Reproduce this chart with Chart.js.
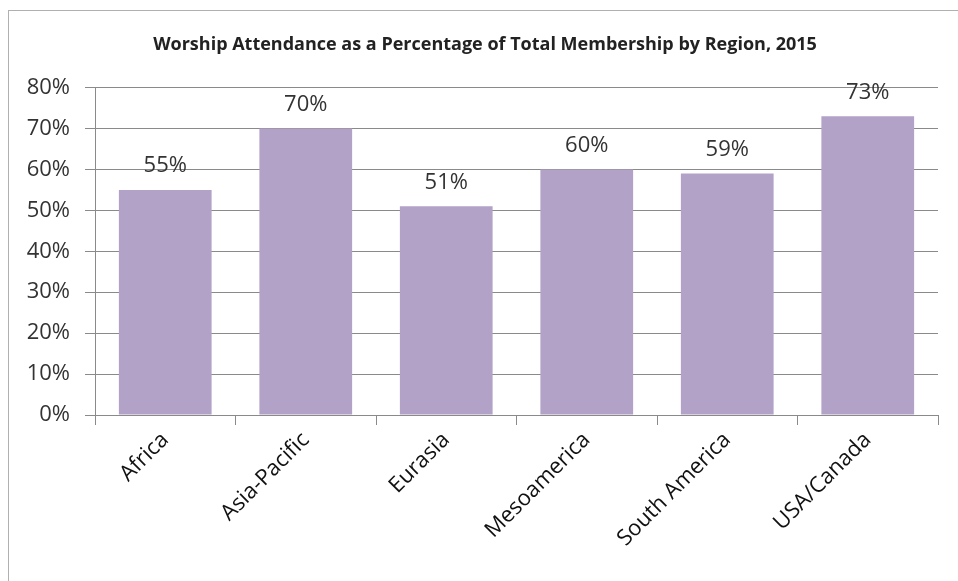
<!DOCTYPE html>
<html>
<head>
<meta charset="utf-8">
<script src="https://cdn.jsdelivr.net/npm/chart.js@4.4.0/dist/chart.umd.min.js"></script>
<style>
  html, body { margin: 0; padding: 0; background: #fff; }
  #frame {
    position: absolute; left: 8px; top: 10px; width: 960px; height: 580px;
    border-left: 1px solid #b0b0b0; border-top: 1px solid #b0b0b0;
  }
  #wrap { position: absolute; left: 0; top: 0; width: 958px; height: 581px; }
</style>
</head>
<body>
<div id="frame"></div>
<div id="wrap"><canvas id="chart"></canvas></div>
<script>
const regions = ['Africa', 'Asia-Pacific', 'Eurasia', 'Mesoamerica', 'South America', 'USA/Canada'];
const attendance = [55, 70, 51, 60, 59, 73];
const yTicks = [0, 10, 20, 30, 40, 50, 60, 70, 80];

const FONT = "'Open Sans', 'DejaVu Sans', sans-serif";
const GRID = '#8a8a8a';

// draw the value above each bar
const barLabels = {
  id: 'barLabels',
  afterDatasetsDraw(chart) {
    const ctx = chart.ctx;
    const meta = chart.getDatasetMeta(0);
    ctx.save();
    ctx.font = '22px ' + FONT;
    ctx.fillStyle = '#333';
    ctx.textAlign = 'center';
    ctx.textBaseline = 'middle';
    meta.data.forEach((bar, i) => {
      ctx.fillText(attendance[i] + '%', bar.x, bar.y - 24);
    });
    ctx.restore();
  }
};

// title sits a bit right of the canvas centre in the original
const shiftTitle = {
  id: 'shiftTitle',
  afterLayout(chart) {
    if (chart.titleBlock) chart.titleBlock.left = 32;
  }
};

new Chart(document.getElementById('chart'), {
  type: 'bar',
  data: {
    labels: regions,
    datasets: [{
      data: attendance,
      backgroundColor: '#b3a2c7',
      categoryPercentage: 1,
      barPercentage: 0.66
    }]
  },
  options: {
    responsive: true,
    maintainAspectRatio: false,
    animation: false,
    layout: { padding: { left: 0, right: 20, top: 0, bottom: 0 } },
    plugins: {
      legend: { display: false },
      tooltip: { enabled: false },
      title: {
        display: true,
        text: 'Worship Attendance as a Percentage of Total Membership by Region, 2015',
        color: '#222',
        font: { family: FONT, size: 18, weight: 'bold' },
        padding: { top: 34, bottom: 32 }
      }
    },
    scales: {
      y: {
        min: 0,
        max: 80,
        afterBuildTicks(scale) { scale.ticks = yTicks.map(v => ({ value: v })); },
        afterFit(scale) { scale.width = 95; },
        border: { color: GRID, width: 1 },
        grid: { color: GRID, tickLength: 10 },
        ticks: {
          color: '#333',
          padding: 15,
          font: { family: FONT, size: 22 },
          callback: v => v + '%'
        }
      },
      x: {
        afterFit(scale) { scale.height = 581 - 415; },
        border: { color: GRID, width: 1 },
        grid: { color: GRID, drawOnChartArea: false, tickLength: 10, offset: true },
        ticks: {
          color: '#111',
          minRotation: 45,
          maxRotation: 45,
          padding: 2,
          font: { family: FONT, size: 22 }
        }
      }
    }
  },
  plugins: [barLabels, shiftTitle]
});
</script>
</body>
</html>
